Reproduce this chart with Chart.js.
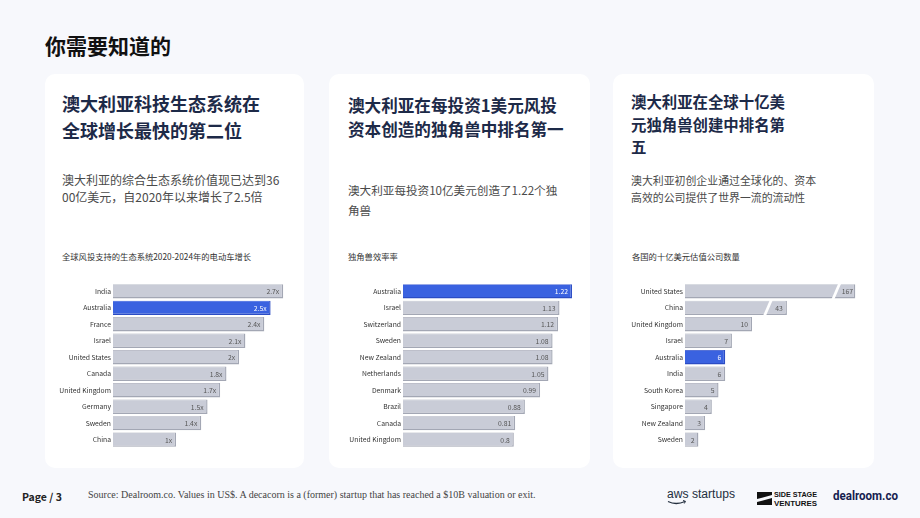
<!DOCTYPE html>
<html>
<head>
<meta charset="utf-8">
<script src="https://cdn.jsdelivr.net/npm/chart.js@4.4.1/dist/chart.umd.min.js"></script>
<style>
  html, body { margin: 0; padding: 0; }
  body {
    width: 920px; height: 518px; position: relative; overflow: hidden;
    background: #f7f8fc;
    font-family: "Noto Sans CJK SC", "Noto Sans", sans-serif;
    color: #222;
  }
  .page-title {
    position: absolute; left: 45px; top: 30px;
    font-size: 21px; font-weight: 700; color: #111; line-height: 30px;
  }
  .card {
    position: absolute; top: 74px; height: 394px;
    background: #fff; border-radius: 10px;
  }
  .card h2 {
    position: absolute; margin: 0; font-weight: 700; color: #1d2a48;
  }
  .card p {
    position: absolute; margin: 0; color: #4a4a4a;
  }
  .card .sub {
    position: absolute; font-size: 8.3px; color: #333; top: 176px; line-height: 12px; white-space: nowrap;
  }
  .card canvas { position: absolute; }
  .footer-page {
    position: absolute; left: 22px; top: 489px;
    font-size: 10.5px; font-weight: 700; color: #222;
  }
  .footer-src {
    position: absolute; left: 88px; top: 489px;
    font-family: "Liberation Serif", serif; font-size: 10px; color: #444;
  }
  .logo { position: absolute; }
</style>
</head>
<body>
<div class="page-title">你需要知道的</div>

<div class="card" style="left:45px; width:259px;">
  <h2 style="left:17px; top:16px; font-size:18px; line-height:27px;">澳大利亚科技生态系统在<br>全球增长最快的第二位</h2>
  <p style="left:17px; top:97px; font-size:12px; line-height:17px;">澳大利亚的综合生态系统价值现已达到36<br>00亿美元，自2020年以来增长了2.5倍</p>
  <div class="sub" style="left:17px;">全球风投支持的生态系统2020-2024年的电动车增长</div>
  <canvas id="c1" width="232" height="177" style="left:10px; top:203px; width:232px; height:177px;"></canvas>
</div>

<div class="card" style="left:329px; width:261px;">
  <h2 style="left:19px; top:19px; font-size:16.6px; line-height:24px;">澳大利亚在每投资1美元风投<br>资本创造的独角兽中排名第一</h2>
  <p style="left:19px; top:106px; font-size:11.6px; line-height:20px;">澳大利亚每投资10亿美元创造了1.22个独<br>角兽</p>
  <div class="sub" style="left:19px;">独角兽效率率</div>
  <canvas id="c2" width="236" height="177" style="left:11px; top:203px; width:236px; height:177px;"></canvas>
</div>

<div class="card" style="left:613px; width:261px;">
  <h2 style="left:18px; top:16px; font-size:15.4px; line-height:22.5px;">澳大利亚在全球十亿美<br>元独角兽创建中排名第<br>五</h2>
  <p style="left:18px; top:98px; font-size:10.9px; line-height:16.5px;">澳大利亚初创企业通过全球化的、资本<br>高效的公司提供了世界一流的流动性</p>
  <div class="sub" style="left:19px;">各国的十亿美元估值公司数量</div>
  <canvas id="c3" width="240" height="177" style="left:7px; top:203px; width:240px; height:177px;"></canvas>
</div>

<div class="footer-page">Page / 3</div>
<div class="footer-src">Source: Dealroom.co. Values in US$. A decacorn is a (former) startup that has reached a $10B valuation or exit.</div>

<svg class="logo" style="left:664px; top:484px;" width="240" height="26" viewBox="0 0 240 26">
  <text x="3" y="14" font-family="Liberation Sans, Arial" font-size="12.5" fill="#232f3e" textLength="68" lengthAdjust="spacingAndGlyphs">aws startups</text>
  <path d="M4 17.5 Q12 21.5 21 17.5" stroke="#232f3e" stroke-width="1.3" fill="none"/>
  <path d="M19 16.5 L21.5 17.3 L20.3 19.5" stroke="#232f3e" stroke-width="1" fill="none"/>
  <polygon points="93,8 108,8 108,11 93,15" fill="#111"/>
  <polygon points="93,18 108,14 108,21 93,21" fill="#111"/>
  <text x="110" y="13" font-family="Liberation Sans Narrow, Liberation Sans, Arial" font-size="8" font-weight="700" fill="#111" textLength="43" lengthAdjust="spacingAndGlyphs">SIDE STAGE</text>
  <text x="110" y="21.5" font-family="Liberation Sans Narrow, Liberation Sans, Arial" font-size="8" font-weight="700" fill="#111" textLength="43" lengthAdjust="spacingAndGlyphs">VENTURES</text>
  <text x="169" y="16" font-family="Roboto, Arial" font-size="12.5" font-weight="700" fill="#151d4f" textLength="65" lengthAdjust="spacingAndGlyphs">dealroom.co</text>
</svg>

<script>
// chart 1: ecosystem value growth 2020-2024
const growthCountries = ["India", "Australia", "France", "Israel", "United States", "Canada", "United Kingdom", "Germany", "Sweden", "China"];
const growthValues = [2.7, 2.5, 2.4, 2.1, 2.0, 1.8, 1.7, 1.5, 1.4, 1.0];
const growthLabels = ["2.7x", "2.5x", "2.4x", "2.1x", "2x", "1.8x", "1.7x", "1.5x", "1.4x", "1x"];

// chart 2: unicorns per $1B VC invested
const effCountries = ["Australia", "Israel", "Switzerland", "Sweden", "New Zealand", "Netherlands", "Denmark", "Brazil", "Canada", "United Kingdom"];
const effValues = [1.22, 1.13, 1.12, 1.08, 1.08, 1.05, 0.99, 0.88, 0.81, 0.8];
const effLabels = ["1.22", "1.13", "1.12", "1.08", "1.08", "1.05", "0.99", "0.88", "0.81", "0.8"];

// chart 3: $1B+ companies by country
const unicornCountries = ["United States", "China", "United Kingdom", "Israel", "Australia", "India", "South Korea", "Singapore", "New Zealand", "Sweden"];
const unicornCounts = [167, 43, 10, 7, 6, 6, 5, 4, 3, 2];
const unicornLabels = ["167", "43", "10", "7", "6", "6", "5", "4", "3", "2"];
// broken axis: how long the cut bars are drawn
const AXIS_BREAK = { "United States": 25.4, "China": 15.2 };

const HIGHLIGHT = "Australia";
const GREY = "#c9ccd7", GREY_EDGE = "#a3a7b4";
const BLUE = "#3a62e0", BLUE_EDGE = "#2b4cc4";
const FONT = "'Noto Sans CJK SC', 'Noto Sans', sans-serif";

const valueLabelPlugin = {
  id: "valueLabels",
  afterDatasetsDraw(chart, args, opts) {
    const ctx = chart.ctx;
    const meta = chart.getDatasetMeta(0);
    const cats = chart.data.labels;
    ctx.save();
    meta.data.forEach((bar, i) => {
      const top = bar.y - bar.height / 2, bottom = bar.y + bar.height / 2;
      const broken = AXIS_BREAK[cats[i]] !== undefined && opts.broken;
      if (broken) {
        // white slash across the bar
        const bx = bar.x - 20;
        ctx.fillStyle = "#fff";
        ctx.beginPath();
        ctx.moveTo(bx - 4, bottom + 1);
        ctx.lineTo(bx + 3, top - 1);
        ctx.lineTo(bx + 6, top - 1);
        ctx.lineTo(bx - 1, bottom + 1);
        ctx.closePath();
        ctx.fill();
      }
      ctx.font = "6.8px " + FONT;
      ctx.fillStyle = cats[i] === HIGHLIGHT ? "#ffffff" : "#555";
      ctx.textBaseline = "middle";
      if (broken) {
        ctx.textAlign = "center";
        ctx.fillText(opts.labels[i], bar.x - 8, bar.y + 0.5);
      } else {
        ctx.textAlign = "right";
        ctx.fillText(opts.labels[i], bar.x - 4, bar.y + 0.5);
      }
    });
    ctx.restore();
  }
};

function makeBarChart(id, cats, values, labels, axisWidth, xMax, broken) {
  const colors = cats.map(c => c === HIGHLIGHT ? BLUE : GREY);
  const edges = cats.map(c => c === HIGHLIGHT ? BLUE_EDGE : GREY_EDGE);
  return new Chart(document.getElementById(id), {
    type: "bar",
    data: {
      labels: cats,
      datasets: [{
        data: values,
        backgroundColor: colors,
        borderColor: edges,
        borderWidth: { top: 0.6, right: 1.4, bottom: 1.4, left: 0 },
        borderSkipped: false,
        barPercentage: 0.87,
        categoryPercentage: 1,
      }],
    },
    plugins: [valueLabelPlugin],
    options: {
      indexAxis: "y",
      responsive: false,
      animation: false,
      layout: { padding: 0 },
      plugins: {
        legend: { display: false },
        tooltip: { enabled: false },
        valueLabels: { labels, broken },
      },
      scales: {
        x: { display: false, min: 0, max: xMax },
        y: {
          grid: { display: false, drawTicks: false },
          border: { display: false },
          ticks: { color: "#333", font: { family: FONT, size: 6.8 }, padding: 2 },
          afterFit(scale) { scale.width = axisWidth; },
        },
      },
    },
  });
}

makeBarChart("c1", growthCountries, growthValues, growthLabels, 58, 2.76, false);
makeBarChart("c2", effCountries, effValues, effLabels, 63, 1.249, false);
makeBarChart("c3", unicornCountries,
  unicornCounts.map((v, i) => AXIS_BREAK[unicornCountries[i]] ?? v),
  unicornLabels, 65, 26.1, true);
</script>
</body>
</html>
